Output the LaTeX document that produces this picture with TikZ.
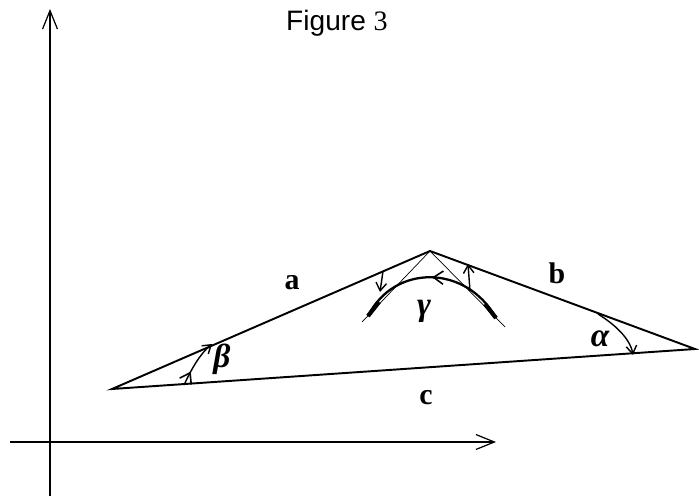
\documentclass[tikz,border=0pt]{standalone}
\usepackage{fontspec}
\setmainfont{Liberation Serif}
\newfontfamily\figsans{Liberation Sans}
\usetikzlibrary{arrows.meta,decorations.markings}
\begin{document}
\begin{tikzpicture}[x=0.02cm,y=-0.02cm,
  axis/.style={line width=0.8pt, -{Straight Barb[length=10.5pt,width=8.5pt,line width=0.7pt]}},
  side/.style={line width=1.1pt},
  thinline/.style={line width=0.4pt},
  thickarc/.style={line width=1.3pt},
  thickend/.style={line width=2.4pt},
  barb/.style={line width=0.8pt,-{Straight Barb[length=4.5pt,width=6pt,line width=0.8pt]}},
  midbarb/.style={decoration={markings, mark=at position #1 with {\arrow{Straight Barb[length=5.5pt,width=7.5pt,line width=0.9pt]}}}, postaction=decorate},
  lab/.style={font=\fontsize{17}{19}\selectfont\bfseries, inner sep=0pt},
  glab/.style={font=\fontsize{19}{21}\selectfont\bfseries\itshape, inner sep=0pt}]
\useasboundingbox (0,0) rectangle (699,496);
% axes
\coordinate (ybot) at (50,498);
\coordinate (ytop) at (50,9);
\coordinate (xl) at (10,442);
\coordinate (xr) at (496,442);
\draw[axis] (ybot) -- (ytop);
\draw[axis] (xl) -- (xr);
% title
\node[anchor=base, inner sep=0pt, font=\fontsize{16}{18}\selectfont] (title) at (337,31) {{\figsans Figure }3};
% triangle
\coordinate (A) at (112,389);
\coordinate (T) at (430,251);
\coordinate (C) at (695,349);
\draw[side] (A) -- (T) -- (C) -- cycle;
% gamma construction
\coordinate (GL) at (362,322);
\coordinate (GR) at (505,327);
\draw[thinline] (GL) -- (T) -- (GR);
\coordinate (P1) at (368,316);
\coordinate (P2) at (496,318);
\draw[thickarc, midbarb=0.5] (P2) .. controls (466,264) and (394,264) .. (P1);
\coordinate (e1a) at (368,316);
\coordinate (e1b) at (379,302);
\coordinate (e2a) at (496,318);
\coordinate (e2b) at (485,304);
\draw[thickend] (e1a) -- (e1b);
\draw[thickend] (e2a) -- (e2b);
\coordinate (s1a) at (383,271);
\coordinate (s1b) at (380,292);
\draw[barb] (s1a) -- (s1b);
\coordinate (s2a) at (470,291);
\coordinate (s2b) at (468,264);
\draw[barb] (s2a) -- (s2b);
% beta arc
\coordinate (B1) at (184,385);
\coordinate (B2) at (212,344);
\draw[barb, midbarb=0.3] (B1) .. controls (192,368) and (200,354) .. (B2);
% alpha arc
\coordinate (a1) at (598,314);
\coordinate (a2) at (633,355);
\draw[barb] (a1) .. controls (614,324) and (630,338) .. (a2);
% labels
\node[lab] (la) at (292,283) {a};
\node[lab] (lb) at (557,273) {b};
\node[lab] (lc) at (426,398) {c};
\node[glab] (lbeta) at (222,359) {β};
\node[glab] (lalpha) at (600,339) {α};
\node[glab] (lgamma) at (424,311) {γ};
\end{tikzpicture}
\end{document}
